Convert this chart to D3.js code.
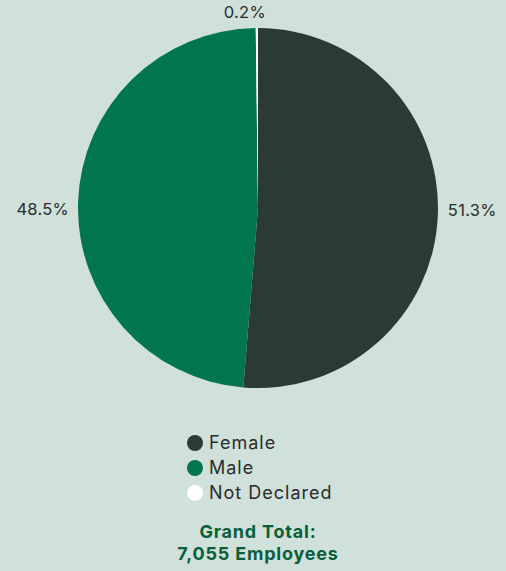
<!DOCTYPE html>
<html><head><meta charset="utf-8">
<script src="https://cdn.jsdelivr.net/npm/d3@7"></script>
<style>
html,body{margin:0;padding:0;background:#cfe1da;}
svg{display:block;font-family:Inter,"Open Sans",sans-serif;}
</style></head>
<body>
<script>
const categories = ["Female", "Male", "Not Declared"];
const values = [51.3, 48.5, 0.2];
const labels = ["51.3%", "48.5%", "0.2%"];
const colors = ["#2b3a36", "#007550", "#ffffff"];
const totalLines = ["Grand Total:", "7,055 Employees"];

const W = 506, H = 571, cx = 258, cy = 208, R = 180;
const svg = d3.select("body").append("svg").attr("width", W).attr("height", H);
svg.append("rect").attr("width", W).attr("height", H).attr("fill", "#cfe1da");

const pie = d3.pie().sort(null).value(d => d)(values);
const arc = d3.arc().innerRadius(0).outerRadius(R);
const g = svg.append("g").attr("transform", `translate(${cx},${cy})`);
g.selectAll("path").data(pie).join("path")
  .attr("d", arc).attr("fill", (d, i) => colors[i]);

const labelArc = d3.arc().innerRadius(R + 12).outerRadius(R + 12);
g.selectAll("text").data(pie).join("text")
  .each(function(d, i) {
    const [x, y] = labelArc.centroid(d);
    const a = (d.startAngle + d.endAngle) / 2;
    const s = Math.sin(a);
    let anchor = "middle", dx = 0, dy = 0;
    if (s > 0.3) { anchor = "start"; dx = -2; dy = -4; }
    else if (s < -0.3) { anchor = "end"; dx = 3; dy = 9; }
    else { dx = -12; dy = -3; }
    d3.select(this).attr("x", x + dx).attr("y", y + dy)
      .attr("text-anchor", anchor).attr("dominant-baseline", "middle")
      .attr("font-size", 16.5).attr("letter-spacing", 0.3).attr("fill", "#2b2b2b").text(labels[i]);
  });

const legend = svg.append("g").attr("transform", "translate(195,443)");
const ly = d3.scalePoint().domain(categories).range([0, 50]);
categories.forEach((c, i) => {
  legend.append("circle").attr("cx", 0).attr("cy", ly(c)).attr("r", 8).attr("fill", colors[i]);
  legend.append("text").attr("x", 14).attr("y", ly(c) + 1).attr("dominant-baseline", "middle")
    .attr("font-size", 18).attr("letter-spacing", 1).attr("fill", "#2b2b2b").text(c);
});

totalLines.forEach((t, i) => {
  svg.append("text").attr("x", 258).attr("y", 533 + i * 22).attr("text-anchor", "middle")
    .attr("dominant-baseline", "middle").attr("font-size", 18).attr("font-weight", 700)
    .attr("letter-spacing", 0.8).attr("fill", "#0b5e3c").text(t);
});
</script>
</body></html>
